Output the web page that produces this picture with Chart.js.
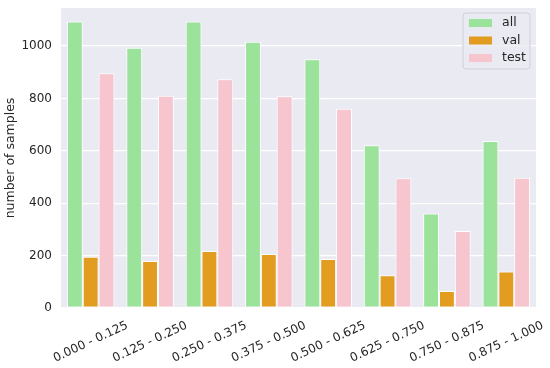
<!DOCTYPE html>
<html>
<head>
<meta charset="utf-8">
<script src="https://cdn.jsdelivr.net/npm/chart.js@4/dist/chart.umd.min.js"></script>
<style>
html,body{margin:0;padding:0;background:#fff;}
#wrap{width:550px;height:368px;position:relative;}
</style>
</head>
<body>
<div id="wrap"><canvas id="c" width="550" height="368"></canvas></div>
<script>
const categories = ["0.000 - 0.125","0.125 - 0.250","0.250 - 0.375","0.375 - 0.500","0.500 - 0.625","0.625 - 0.750","0.750 - 0.875","0.875 - 1.000"];
const allValues  = [1093, 993, 1093, 1016, 949, 621, 361, 637];
const valValues  = [196, 179, 218, 206, 187, 125, 65, 139];
const testValues = [896, 810, 873, 808, 760, 495, 294, 497];
const yTicks = [0, 200, 400, 600, 800, 1000];
const yMax = 1145;

const FONT = "'DejaVu Sans', sans-serif";
const TEXT = '#262626';

const bgPlugin = {
  id: 'bg',
  beforeDraw(chart) {
    const {ctx, chartArea: a} = chart;
    ctx.save();
    ctx.fillStyle = '#EAEAF2';
    ctx.fillRect(a.left, a.top, a.right - a.left, a.bottom - a.top);
    ctx.restore();
  }
};

const xLabelPlugin = {
  id: 'xlabels',
  afterDraw(chart) {
    const {ctx} = chart;
    const xs = chart.scales.x;
    ctx.save();
    ctx.font = '12px ' + FONT;
    ctx.fillStyle = TEXT;
    ctx.textAlign = 'center';
    ctx.textBaseline = 'middle';
    chart.data.labels.forEach((lab, i) => {
      const x = xs.getPixelForTick(i);
      ctx.save();
      ctx.translate(x, chart.chartArea.bottom + 34);
      ctx.rotate(-25 * Math.PI / 180);
      ctx.fillText(lab, 0, 0);
      ctx.restore();
    });
    ctx.restore();
  }
};

const legendPlugin = {
  id: 'boxlegend',
  afterDraw(chart) {
    const {ctx} = chart;
    const a = chart.chartArea;
    const bx = a.right - 73, by = a.top + 5, bw = 67, bh = 56;
    ctx.save();
    ctx.beginPath();
    const r = 3;
    ctx.moveTo(bx + r, by);
    ctx.arcTo(bx + bw, by, bx + bw, by + bh, r);
    ctx.arcTo(bx + bw, by + bh, bx, by + bh, r);
    ctx.arcTo(bx, by + bh, bx, by, r);
    ctx.arcTo(bx, by, bx + bw, by, r);
    ctx.closePath();
    ctx.fillStyle = 'rgba(234,234,242,0.8)';
    ctx.fill();
    ctx.strokeStyle = '#d0d0d6';
    ctx.lineWidth = 1;
    ctx.stroke();
    ctx.font = '12.5px ' + FONT;
    ctx.textBaseline = 'middle';
    ctx.textAlign = 'left';
    chart.data.datasets.forEach((ds, i) => {
      const cy = by + 10 + i * 17.5;
      ctx.fillStyle = ds.backgroundColor;
      ctx.fillRect(bx + 6, cy - 4, 23, 8);
      ctx.fillStyle = TEXT;
      ctx.fillText(ds.label, bx + 39, cy);
    });
    ctx.restore();
  }
};

new Chart(document.getElementById('c'), {
  type: 'bar',
  data: {
    labels: categories,
    datasets: [
      {label: 'all', data: allValues, backgroundColor: '#9BE39B'},
      {label: 'val', data: valValues, backgroundColor: '#E29C20'},
      {label: 'test', data: testValues, backgroundColor: '#F7C5CE'}
    ].map(d => Object.assign(d, {borderColor: '#ffffff', borderWidth: 1, borderSkipped: false, categoryPercentage: 0.8, barPercentage: 1.0}))
  },
  options: {
    responsive: false,
    animation: false,
    devicePixelRatio: 1,
    layout: {padding: {top: 8, right: 14, left: 0, bottom: 0}},
    plugins: {legend: {display: false}, tooltip: {enabled: false}},
    scales: {
      x: {
        grid: {display: false, drawTicks: false},
        border: {display: false},
        ticks: {display: false},
        afterFit(s) { s.height = 60; s.paddingLeft = 0; s.paddingRight = 0; }
      },
      y: {
        min: 0, max: yMax,
        afterBuildTicks(s) { s.ticks = yTicks.map(v => ({value: v})); },
        grid: {color: '#ffffff', lineWidth: 1.2, drawTicks: false},
        border: {display: false},
        ticks: {font: {size: 12, family: FONT}, color: TEXT, padding: 9, callback: v => String(v)},
        title: {display: true, text: 'number of samples', font: {size: 12.5, family: FONT}, color: TEXT, padding: {top: 3, bottom: 0}},
        afterFit(s) { s.width = 61; s.paddingTop = 0; s.paddingBottom = 0; }
      }
    }
  },
  plugins: [bgPlugin, xLabelPlugin, legendPlugin]
});
</script>
</body>
</html>
